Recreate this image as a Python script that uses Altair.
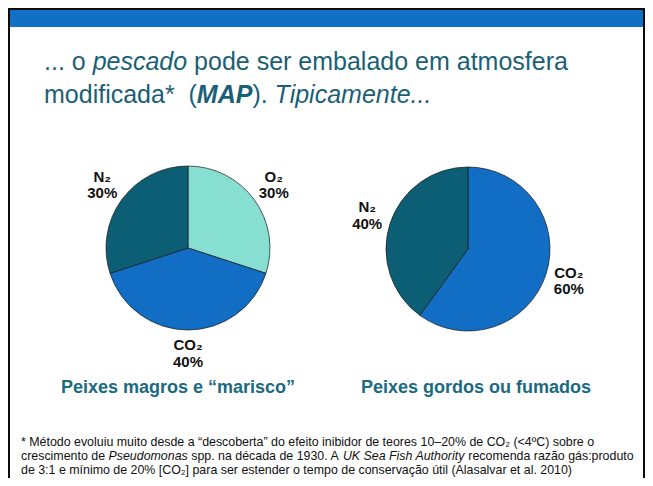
import altair as alt
import pandas as pd

# ---------------- data ----------------
gases_1 = ["O₂", "CO₂", "N₂"]
pct_1 = [30, 40, 30]
gases_2 = ["CO₂", "N₂"]
pct_2 = [60, 40]
gas_domain = ["O₂", "CO₂", "N₂"]
gas_colors = ["#86DFD0", "#116EC4", "#0B5E74"]

caption_1 = "Peixes magros e “marisco”"
caption_2 = "Peixes gordos ou fumados"

title_line1 = [("... o ", "normal", "normal"), ("pescado", "italic", "normal"),
               (" pode ser embalado em atmosfera", "normal", "normal")]
title_line2 = [("modificada*", "normal", "normal"), ("  (", "normal", "normal"),
               ("MAP", "italic", "bold"), (").", "normal", "normal"),
               (" Tipicamente...", "italic", "normal")]

foot_line1 = "* Método evoluiu  muito desde a “descoberta” do efeito inibidor de teores 10–20% de CO₂ (<4ºC) sobre o"
foot_line2 = [("crescimento de ", "normal"), ("Pseudomonas", "italic"),
              (" spp. na década de 1930. A ", "normal"), ("UK Sea Fish Authority", "italic"),
              (" recomenda razão gás:produto", "normal")]
foot_line3 = "de 3:1 e mínimo de 20% [CO₂] para ser estender o tempo de conservação útil (Alasalvar et al. 2010)"

# ---------------- text metrics (Arial / Liberation Sans) ----------------
W = {}
for chars, w in [("ijl", 222), (" !,./:;[]\\ftIí", 278), ("()-r“”`", 333), ('"', 355), ("º", 365),
                 ("*", 389), ("cksvxyzJç", 500),
                 ("abdeghnopqu0123456789$#?_áãéêóôúàâõL–", 556), ("<>=+", 584), ("FTZ", 611),
                 ("ABEKPSVXY&", 667), ("CDHNRUw", 722), ("GOQ", 778), ("mM", 833), ("%", 889),
                 ("W", 944)]:
    for c in chars:
        W[c] = w
WB = dict(W)
WB.update({"M": 833, "A": 722, "P": 667})


def tw(s, size, bold=False):
    tab = WB if bold else W
    return sum(tab.get(c, 556) for c in s) * size / 1000.0


CW, CH = 637, 470
FONT = "Liberation Sans"
TITLE_COLOR = "#1B5F76"
CAP_COLOR = "#1A6A82"

one = pd.DataFrame({"k": [0]})
layers = []

# frame + header band
layers.append(alt.Chart(one).mark_rect(color="#1170C6").encode(
    x=alt.value(0), x2=alt.value(CW), y=alt.value(0), y2=alt.value(19)))
for (x1, x2, y1, y2) in [(0, 2, 0, CH), (CW - 2, CW, 0, CH), (0, CW, 0, 2)]:
    layers.append(alt.Chart(one).mark_rect(color="#0A0A0A").encode(
        x=alt.value(x1), x2=alt.value(x2), y=alt.value(y1), y2=alt.value(y2)))


def segment_layers(segs, x0, y, size, color):
    out = []
    x = x0
    for seg in segs:
        txt, style, weight = seg
        lead = len(txt) - len(txt.lstrip(" "))
        xs = x + tw(txt[:lead], size, weight == "bold")
        out.append(alt.Chart(one).mark_text(
            text=txt.strip(" "), align="left", baseline="alphabetic", font=FONT,
            fontSize=size, fontStyle=style, fontWeight=weight, color=color
        ).encode(x=alt.value(xs), y=alt.value(y)))
        x += tw(txt, size, weight == "bold")
    return out


TS = 25.0
layers += segment_layers(title_line1, 36, 62, TS, TITLE_COLOR)
layers += segment_layers(title_line2, 36, 95, TS, TITLE_COLOR)

# pies
def pie_layers(gases, pcts, cx, cy):
    df = pd.DataFrame({"gas": gases, "pct": pcts, "ord": list(range(len(gases)))})
    df["label"] = [g + "\n" + str(p) + "%" for g, p in zip(gases, pcts)]
    base = alt.Chart(df).encode(
        theta=alt.Theta("pct:Q", stack=True),
        order=alt.Order("ord:Q"),
        x=alt.value(cx), y=alt.value(cy),
    )
    arc = base.mark_arc(radius=82, stroke="#1a1a1a", strokeWidth=0.7).encode(
        color=alt.Color("gas:N", scale=alt.Scale(domain=gas_domain, range=gas_colors), legend=None))
    txt = base.mark_text(radius=106, dy=-9, font=FONT, fontSize=15, fontWeight="bold",
                         color="#111111", lineBreak="\n", lineHeight=16.5, align="center",
                         baseline="middle").encode(text="label:N")
    return [arc, txt]

layers += pie_layers(gases_1, pct_1, 180, 240)
layers += pie_layers(gases_2, pct_2, 460, 241)

# captions
for cap, cx in [(caption_1, 170), (caption_2, 468)]:
    layers.append(alt.Chart(one).mark_text(
        text=cap, align="center", baseline="alphabetic", font=FONT, fontSize=18,
        fontWeight="bold", color=CAP_COLOR).encode(x=alt.value(cx), y=alt.value(385)))

# footnote
FS = 12.4
FX = 13
layers.append(alt.Chart(one).mark_text(text=foot_line1, align="left", baseline="alphabetic",
                                       font=FONT, fontSize=FS, color="#111111").encode(
    x=alt.value(FX), y=alt.value(438)))
layers += segment_layers([(t, s, "normal") for t, s in foot_line2], FX, 452, FS, "#111111")
layers.append(alt.Chart(one).mark_text(text=foot_line3, align="left", baseline="alphabetic",
                                       font=FONT, fontSize=FS, color="#111111").encode(
    x=alt.value(FX), y=alt.value(466)))

chart = alt.layer(*layers).properties(
    width=CW, height=CH, padding=0, autosize=alt.AutoSizeParams(type="none"),
    background="white"
).configure_view(strokeWidth=0)

chart.save("out.html", embed_options={"renderer": "svg", "actions": False})
